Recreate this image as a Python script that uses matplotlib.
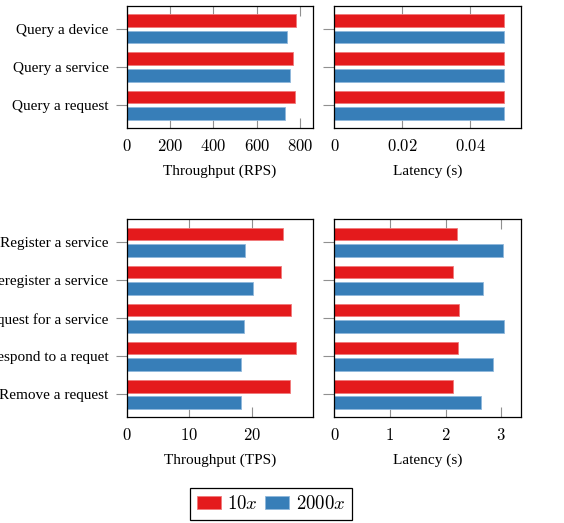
import matplotlib
matplotlib.use("Agg")
import matplotlib.pyplot as plt
import numpy as np

plt.rcParams['font.family'] = ['Liberation Serif', 'DejaVu Serif']
plt.rcParams['mathtext.fontset'] = 'cm'

# Data
query_ops = ['Query a device', 'Query a service', 'Query a request']
query_tput_10x = [783, 765, 777]
query_tput_2000x = [740, 755, 731]
query_lat_10x = [0.0501, 0.0501, 0.0501]
query_lat_2000x = [0.0501, 0.0501, 0.0501]

tx_ops = ['Register a service', 'Deregister a service', 'Request for a service',
          'Respond to a requet', 'Remove a request']
tx_tput_10x = [25.1, 24.8, 26.4, 27.2, 26.1]
tx_tput_2000x = [19.0, 20.2, 18.8, 18.3, 18.3]
tx_lat_10x = [2.20, 2.13, 2.24, 2.23, 2.14]
tx_lat_2000x = [3.04, 2.68, 3.05, 2.86, 2.63]

series_labels = ['$10x$', '$2000x$']
red = '#e41a1c'
blue = '#377eb8'
red_edge = '#f07a7b'
blue_edge = '#8fb8dc'


def fmt_tick(v, pos):
    return f'${v:g}$'


def draw_panel(ax, ops, v10, v2000, xmax, xticks, xlabel, show_labels):
    y = np.arange(len(ops))
    h = 0.33
    ax.barh(y - 0.215, v10, height=h, color=red, edgecolor=red_edge, linewidth=0.6, zorder=2)
    ax.barh(y + 0.215, v2000, height=h, color=blue, edgecolor=blue_edge, linewidth=0.6, zorder=2)
    ax.set_ylim(len(ops) - 1 + 0.6, -0.6)
    ax.set_xlim(0, xmax)
    ax.set_xticks(xticks)
    ax.xaxis.set_major_formatter(plt.FuncFormatter(fmt_tick))
    ax.set_yticks(y)
    ax.set_yticklabels(ops if show_labels else [])
    ax.set_axisbelow(True)
    ax.tick_params(axis='x', direction='in', top=True, bottom=True, length=7,
                   width=0.8, color='#909090', labelsize=12, pad=7.5)
    ax.tick_params(axis='y', direction='out', length=8, width=0.8,
                   color='#909090', labelsize=11, pad=5)
    for s in ax.spines.values():
        s.set_linewidth(0.9)
        s.set_color('black')
    ax.set_xlabel(xlabel, fontsize=11, labelpad=7)


fig = plt.figure(figsize=(5.64, 5.23), dpi=100)

top_b, top_h = 0.7547, 0.989 - 0.7547
bot_b, bot_h = 0.2021, 0.5807 - 0.2021
l1, w1 = 0.2246, 0.5544 - 0.2246
l2, w2 = 0.5928, 0.9232 - 0.5928

ax1 = fig.add_axes([l1, top_b, w1, top_h])
ax2 = fig.add_axes([l2, top_b, w2, top_h])
ax3 = fig.add_axes([l1, bot_b, w1, bot_h])
ax4 = fig.add_axes([l2, bot_b, w2, bot_h])

draw_panel(ax1, query_ops, query_tput_10x, query_tput_2000x, 858,
           [0, 200, 400, 600, 800], 'Throughput (RPS)', True)
draw_panel(ax2, query_ops, query_lat_10x, query_lat_2000x, 0.0549,
           [0, 0.02, 0.04], 'Latency (s)', False)
draw_panel(ax3, tx_ops, tx_tput_10x, tx_tput_2000x, 29.8,
           [0, 10, 20], 'Throughput (TPS)', True)
draw_panel(ax4, tx_ops, tx_lat_10x, tx_lat_2000x, 3.35,
           [0, 1, 2, 3], 'Latency (s)', False)

handles = [plt.Rectangle((0, 0), 1, 1, facecolor=red, edgecolor=red_edge, linewidth=0.6),
           plt.Rectangle((0, 0), 1, 1, facecolor=blue, edgecolor=blue_edge, linewidth=0.6)]
leg = fig.legend(handles, series_labels, loc='center', bbox_to_anchor=(0.48, 0.0363),
                 ncol=2, fontsize=13.5, frameon=True, fancybox=False, framealpha=1,
                 edgecolor='black', handlelength=1.3, handleheight=0.64,
                 handletextpad=0.35, columnspacing=0.35, borderpad=0.35)
leg.get_frame().set_linewidth(0.9)

fig.savefig('out.png', dpi=100)
